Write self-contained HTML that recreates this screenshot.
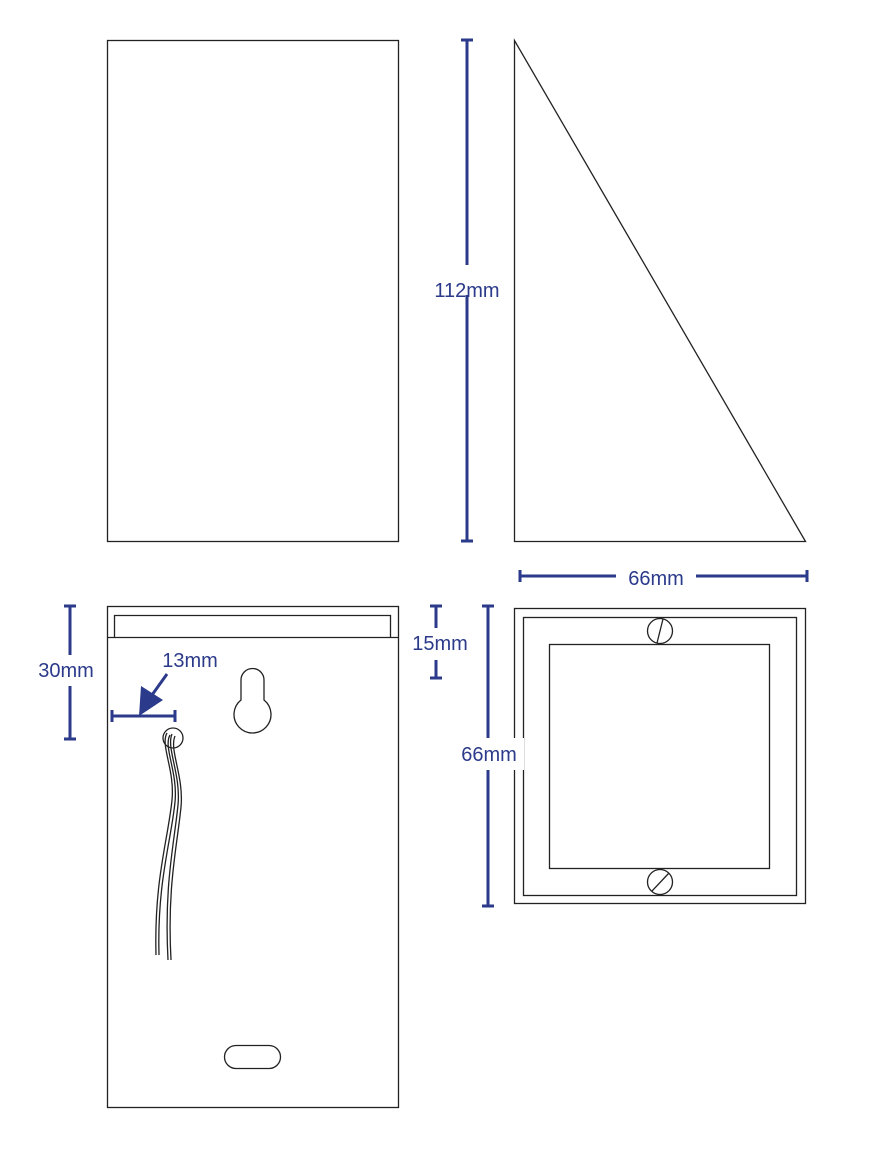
<!DOCTYPE html>
<html><head><style>
html,body{margin:0;padding:0;background:#fff;}
svg{display:block}
text{font-family:"Liberation Sans",sans-serif;font-size:20px;fill:#2b3a8a;}
</style></head><body>
<svg width="896" height="1166" viewBox="0 0 896 1166">
<g fill="none" stroke="#222" stroke-width="1.3">
<rect x="107.5" y="40.5" width="291" height="501"/>
<polygon points="514.5,40.5 514.5,541.5 805.5,541.5"/>
<rect x="107.5" y="606.5" width="291" height="501"/>
<line x1="107" y1="637.5" x2="398" y2="637.5"/>
<polyline points="114.5,637 114.5,615.5 390.5,615.5 390.5,637"/>
<path d="M241,680 a11.5,11.5 0 0 1 23,0 v20 a18.5,18.5 0 1 1 -23,0 z"/>
<rect x="224.5" y="1045.5" width="56" height="23" rx="11.5"/>
<circle cx="173" cy="738" r="10"/>
<path d="M167,733 C160,745 175,770 172,800 C168,840 154,880 156,955"/>
<path d="M170,735 C163,747 178,772 175,802 C171,842 157,882 159,955"/>
<path d="M172,734 C166,748 181,774 178,805 C174,845 164,885 168,960"/>
<path d="M175,736 C169,750 184,776 181,807 C177,847 167,887 171,960"/>
<rect x="514.5" y="608.5" width="291" height="295"/>
<rect x="523.5" y="617.5" width="273" height="278"/>
<rect x="549.5" y="644.5" width="220" height="224"/>
<circle cx="660" cy="631" r="12.5" fill="#fff"/>
<line x1="657" y1="643" x2="663" y2="619"/>
<circle cx="660" cy="882" r="12.5" fill="#fff"/>
<line x1="652" y1="891" x2="669" y2="873"/>
</g>
<rect x="458" y="738" width="66" height="32" fill="#fff"/>
<g stroke="#2b3a8a" stroke-width="3" fill="none">
<line x1="467" y1="40" x2="467" y2="265"/><line x1="467" y1="295" x2="467" y2="541"/>
<line x1="461" y1="40" x2="473" y2="40"/><line x1="461" y1="541" x2="473" y2="541"/>
<line x1="520" y1="576" x2="616" y2="576"/><line x1="696" y1="576" x2="807" y2="576"/>
<line x1="520" y1="570" x2="520" y2="582"/><line x1="807" y1="570" x2="807" y2="582"/>
<line x1="70" y1="606" x2="70" y2="655"/><line x1="70" y1="686" x2="70" y2="739"/>
<line x1="64" y1="606" x2="76" y2="606"/><line x1="64" y1="739" x2="76" y2="739"/>
<line x1="112" y1="716" x2="175" y2="716"/>
<line x1="112" y1="710" x2="112" y2="722"/><line x1="175" y1="710" x2="175" y2="722"/>
<line x1="167" y1="674" x2="152" y2="695"/>
<line x1="436" y1="606" x2="436" y2="628"/><line x1="436" y1="660" x2="436" y2="678"/>
<line x1="430" y1="606" x2="442" y2="606"/><line x1="430" y1="678" x2="442" y2="678"/>
<line x1="488" y1="606" x2="488" y2="738"/><line x1="488" y1="770" x2="488" y2="906"/>
<line x1="482" y1="606" x2="494" y2="606"/><line x1="482" y1="906" x2="494" y2="906"/>
</g>
<polygon points="139,716 141,686 163,700" fill="#2b3a8a"/>
<text x="467" y="297" text-anchor="middle">112mm</text>
<text x="656" y="585" text-anchor="middle">66mm</text>
<text x="66" y="677" text-anchor="middle">30mm</text>
<text x="190" y="667" text-anchor="middle">13mm</text>
<text x="440" y="650" text-anchor="middle">15mm</text>
<text x="489" y="761" text-anchor="middle">66mm</text>
</svg>
</body></html>
